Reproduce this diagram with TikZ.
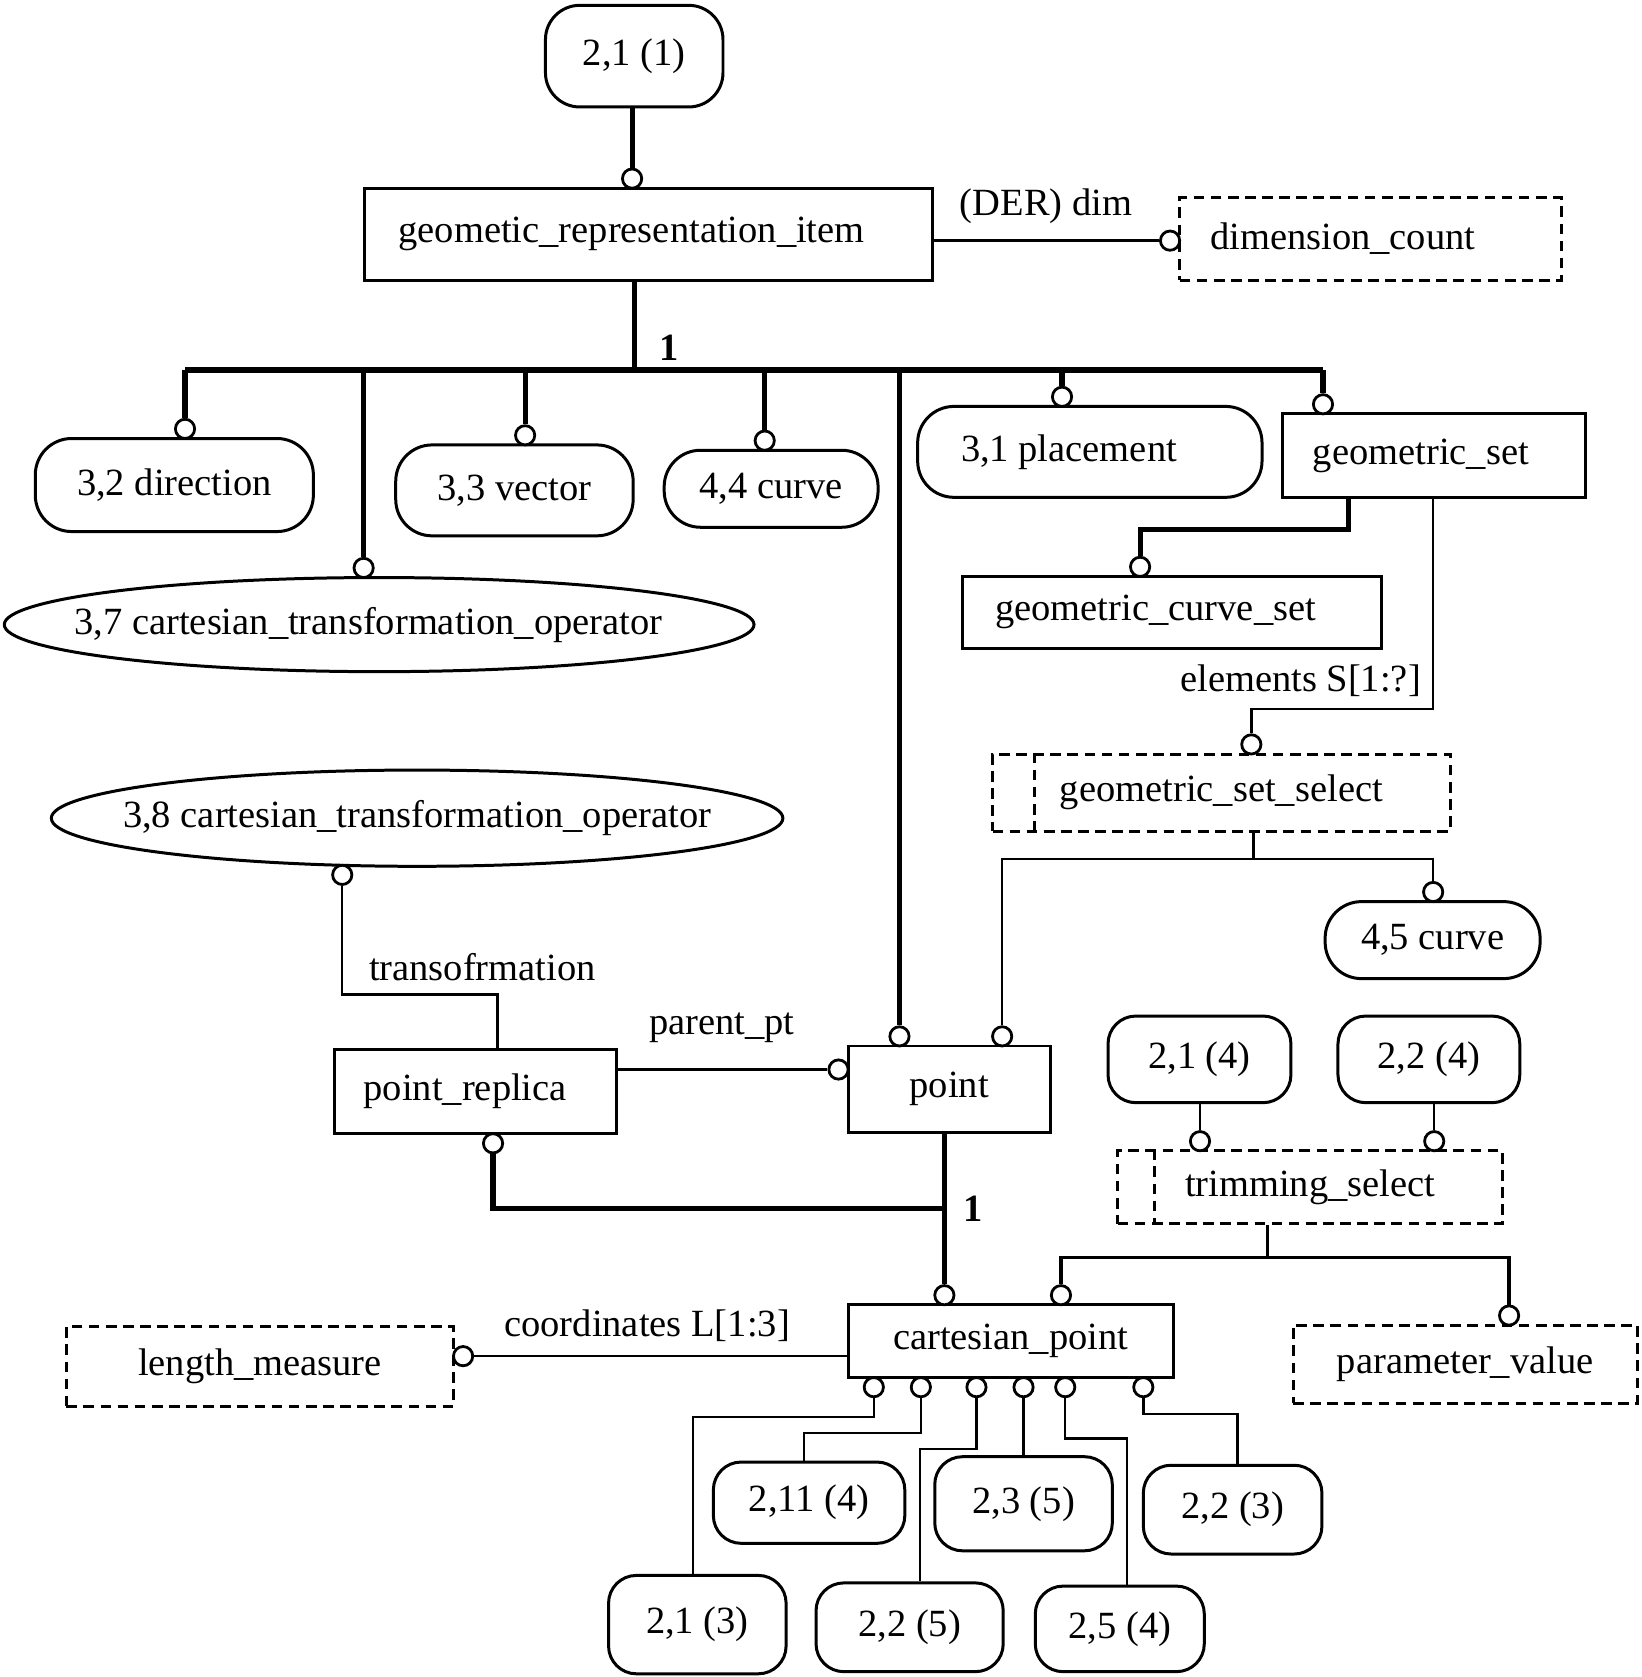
\documentclass[tikz,border=0pt]{standalone}
\usepackage{fontspec}
\setmainfont{Liberation Serif}
\usetikzlibrary{shapes.geometric}
\begin{document}
\begin{tikzpicture}[x=0.5pt,y=-0.5pt,
  txt/.style={font=\fontsize{18}{21}\selectfont},
  base/.style={txt, draw, line width=1.4pt, inner sep=0pt},
  box/.style={base, rectangle},
  dbox/.style={base, rectangle, dash pattern=on 5pt off 3pt},
  rbox/.style={base, rectangle, rounded corners=13pt},
  sbox/.style={base, rectangle, rounded corners=17pt},
  ell/.style={base, ellipse},
  oc/.style={circle, draw, fill=white, line width=1.3pt, minimum size=9pt, inner sep=0pt},
  thk/.style={line width=2.4pt},
  med/.style={line width=1.6pt},
  thn/.style={line width=1.1pt},
  lbl/.style={txt, inner sep=0pt}]
\useasboundingbox (0,0) rectangle (1535,1568);

% helper x positions
\coordinate (x593) at (593,0);
\coordinate (x1261) at (1261,0);
\coordinate (x1340) at (1340,0);
\coordinate (x1172) at (1172,0);
\coordinate (x465) at (465,0);
\coordinate (x1185) at (1185,0);
\coordinate (x648) at (648,0);
\coordinate (x752) at (752,0);
\coordinate (x860) at (860,0);
\coordinate (x1054) at (1054,0);
\coordinate (x1157) at (1157,0);
\coordinate (busL) at (172,346);

% nodes
\node[rbox, minimum width=83pt, minimum height=47.5pt, rounded corners=16pt] (n211) at (593,52.5) {2,1 (1)};
\node[box, minimum width=265.5pt, minimum height=43pt] (gri) at (606.5,219) {\hspace*{-16pt}geometic\_representation\_item};
\node[dbox, minimum width=178.5pt, minimum height=38.5pt] (dim) at (1281.5,223.5) {\hspace*{-26pt}dimension\_count};
\node[sbox, minimum width=130pt, minimum height=43.5pt] (dir) at (163,453.5) {3,2 direction};
\node[ell, minimum width=350.5pt, minimum height=44pt] (ct37) at (354.5,584) {\makebox[0pt]{\hspace*{-10pt}3,7 cartesian\_transformation\_operator}};
\node[sbox, minimum width=111pt, minimum height=42.5pt] (vec) at (481,458.5) {3,3 vector};
\node[sbox, minimum width=100pt, minimum height=36pt] (c44) at (721,457) {4,4 curve};
\node[sbox, minimum width=161pt, minimum height=42.5pt] (plc) at (1019,422.5) {\hspace*{-19.5pt}3,1 placement};
\node[box, minimum width=141.5pt, minimum height=39pt] (gs) at (1340.5,426) {\hspace*{-12pt}geometric\_set};
\node[box, minimum width=196pt, minimum height=33.5pt] (gcs) at (1096,572.5) {\hspace*{-15.5pt}geometric\_curve\_set};
\node[dbox, minimum width=214pt, minimum height=36pt] (gss) at (1142,741) {geometric\_set\_select};
\node[sbox, minimum width=100.5pt, minimum height=36pt] (c45) at (1339.5,879) {4,5 curve};
\node[ell, minimum width=342pt, minimum height=45pt] (ct38) at (390,765) {\makebox[0pt]{3,8 cartesian\_transformation\_operator}};
\node[box, minimum width=131.5pt, minimum height=39.5pt] (prep) at (444.5,1020.5) {\hspace*{-9.5pt}point\_replica};
\node[box, minimum width=94.5pt, minimum height=40.5pt] (pt) at (887.5,1018.5) {point};
\node[rbox, minimum width=85.5pt, minimum height=40.5pt] (n214) at (1121.5,990.5) {2,1 (4)};
\node[rbox, minimum width=85pt, minimum height=40.5pt] (n224) at (1336,990.5) {2,2 (4)};
\node[dbox, minimum width=180pt, minimum height=34pt] (trim) at (1225,1110) {trimming\_select};
\node[box, minimum width=152pt, minimum height=34pt] (cp) at (945,1254) {cartesian\_point};
\node[dbox, minimum width=181pt, minimum height=37.5pt] (lm) at (243,1277.5) {length\_measure};
\node[dbox, minimum width=161pt, minimum height=36.5pt] (pv) at (1370,1275.5) {parameter\_value};
\node[rbox, minimum width=89.5pt, minimum height=38pt] (n2114) at (756.5,1405) {2,11 (4)};
\node[rbox, minimum width=83pt, minimum height=44pt] (n235) at (957,1406) {2,3 (5)};
\node[rbox, minimum width=83.5pt, minimum height=41.5pt] (n223) at (1152.5,1411.5) {2,2 (3)};
\node[rbox, minimum width=83pt, minimum height=46pt] (n213) at (652,1519) {2,1 (3)};
\node[rbox, minimum width=87.5pt, minimum height=41.5pt] (n225) at (850.5,1521.5) {2,2 (5)};
\node[rbox, minimum width=79pt, minimum height=40pt] (n254) at (1047,1523) {2,5 (4)};

% inner dashed lines of select types
\draw[line width=1.4pt, dash pattern=on 5pt off 3pt] ([xshift=20.5pt]gss.north west) -- ([xshift=20.5pt]gss.south west);
\draw[line width=1.4pt, dash pattern=on 5pt off 3pt] ([xshift=18pt]trim.north west) -- ([xshift=18pt]trim.south west);

% connector end circles
\node[oc] (ctop) at (591,167) {};
\node[oc] (cdim) at (1094,225) {};
\node[oc] (cdir) at (173,401) {};
\node[oc] (c37) at (340,531) {};
\node[oc] (cvec) at (491,407) {};
\node[oc] (c44o) at (715,412) {};
\node[oc] (cplc) at (993,371) {};
\node[oc] (cgs) at (1237,378) {};
\node[oc] (cgcs) at (1066,530) {};
\node[oc] (cgss) at (1170,696) {};
\node[oc] (c45o) at (1340,834) {};
\node[oc] (cpt1) at (841,969) {};
\node[oc] (cpt2) at (937,969) {};
\node[oc] (c38) at (320,818) {};
\node[oc] (cpp) at (784,1000) {};
\node[oc] (cpr) at (461,1069) {};
\node[oc] (ccp1) at (883,1211) {};
\node[oc] (ccp2) at (992,1211) {};
\node[oc] (ct1) at (1122,1067) {};
\node[oc] (ct2) at (1341,1067) {};
\node[oc] (cpv) at (1411,1230) {};
\node[oc] (clm) at (433,1268) {};
\node[oc] (b1) at (817,1297) {};
\node[oc] (b2) at (861,1297) {};
\node[oc] (b3) at (913,1297) {};
\node[oc] (b4) at (957,1297) {};
\node[oc] (b5) at (996,1297) {};
\node[oc] (b6) at (1069,1297) {};

% connectors
\draw[thk] (ctop |- n211.south) -- (ctop);
\draw[thk] (x593 |- gri.south) -- (x593 |- busL);
\draw[thk] (cdir |- busL) -- (cgs |- busL);
\draw[thk] (cdir |- busL) -- (cdir);
\draw[thk] (c37 |- busL) -- (c37);
\draw[thk] (cvec |- busL) -- (cvec);
\draw[thk] (c44o |- busL) -- (c44o);
\draw[thk] (cplc |- busL) -- (cplc);
\draw[thk] (cgs |- busL) -- (cgs);
\draw[thk] (cpt1 |- busL) -- (cpt1);
\node[lbl] (one1) at (626,325) {\textbf{1}};

\draw[thn] (gri.east |- cdim) -- (cdim);
\node[lbl] (derdim) at (978,193) {(DER) dim};

\draw[thk] (x1261 |- gs.south) -- (1261,495) -| (cgcs);
\draw[thn] (x1340 |- gs.south) -- (1340,663) -| (cgss);
\node[lbl] (elem) at (1216,636) {elements S[1:?]};

\draw[thn] (x1172 |- gss.south) -- (1172,803);
\draw[thn] (cpt2) |- (1172,803) -| (c45o);

\draw[thn] (c38) |- (465,930) -- (x465 |- prep.north);
\node[lbl] (transf) at (451,904) {transofrmation};
\draw[thn] (prep.east |- cpp) -- (cpp);
\node[lbl] (ppt) at (675,961) {parent\_pt};

\draw[thk] (ccp1 |- pt.south) -- (ccp1);
\draw[thk] (cpr) |- (883,1130);
\node[lbl] (one2) at (910,1130) {\textbf{1}};

\draw[thn] (x1185 |- trim.south) -- (1185,1176);
\draw[med] (ccp2) |- (1185,1176) -| (cpv);
\draw[thn] (n214.south -| ct1) -- (ct1);
\draw[thn] (n224.south -| ct2) -- (ct2);

\draw[thn] (cp.west |- clm) -- (clm);
\node[lbl] (coord) at (605,1240) {coordinates L[1:3]};

\draw[thn] (b1) |- (648,1325) -- (x648 |- n213.north);
\draw[thn] (b2) |- (752,1340) -- (x752 |- n2114.north);
\draw[thn] (b3) |- (860,1355) -- (x860 |- n225.north);
\draw[thn] (b4) -- (b4 |- n235.north);
\draw[thn] (b5) |- (1054,1345) -- (x1054 |- n254.north);
\draw[thn] (b6) |- (1157,1322) -- (x1157 |- n223.north);
\end{tikzpicture}
\end{document}
